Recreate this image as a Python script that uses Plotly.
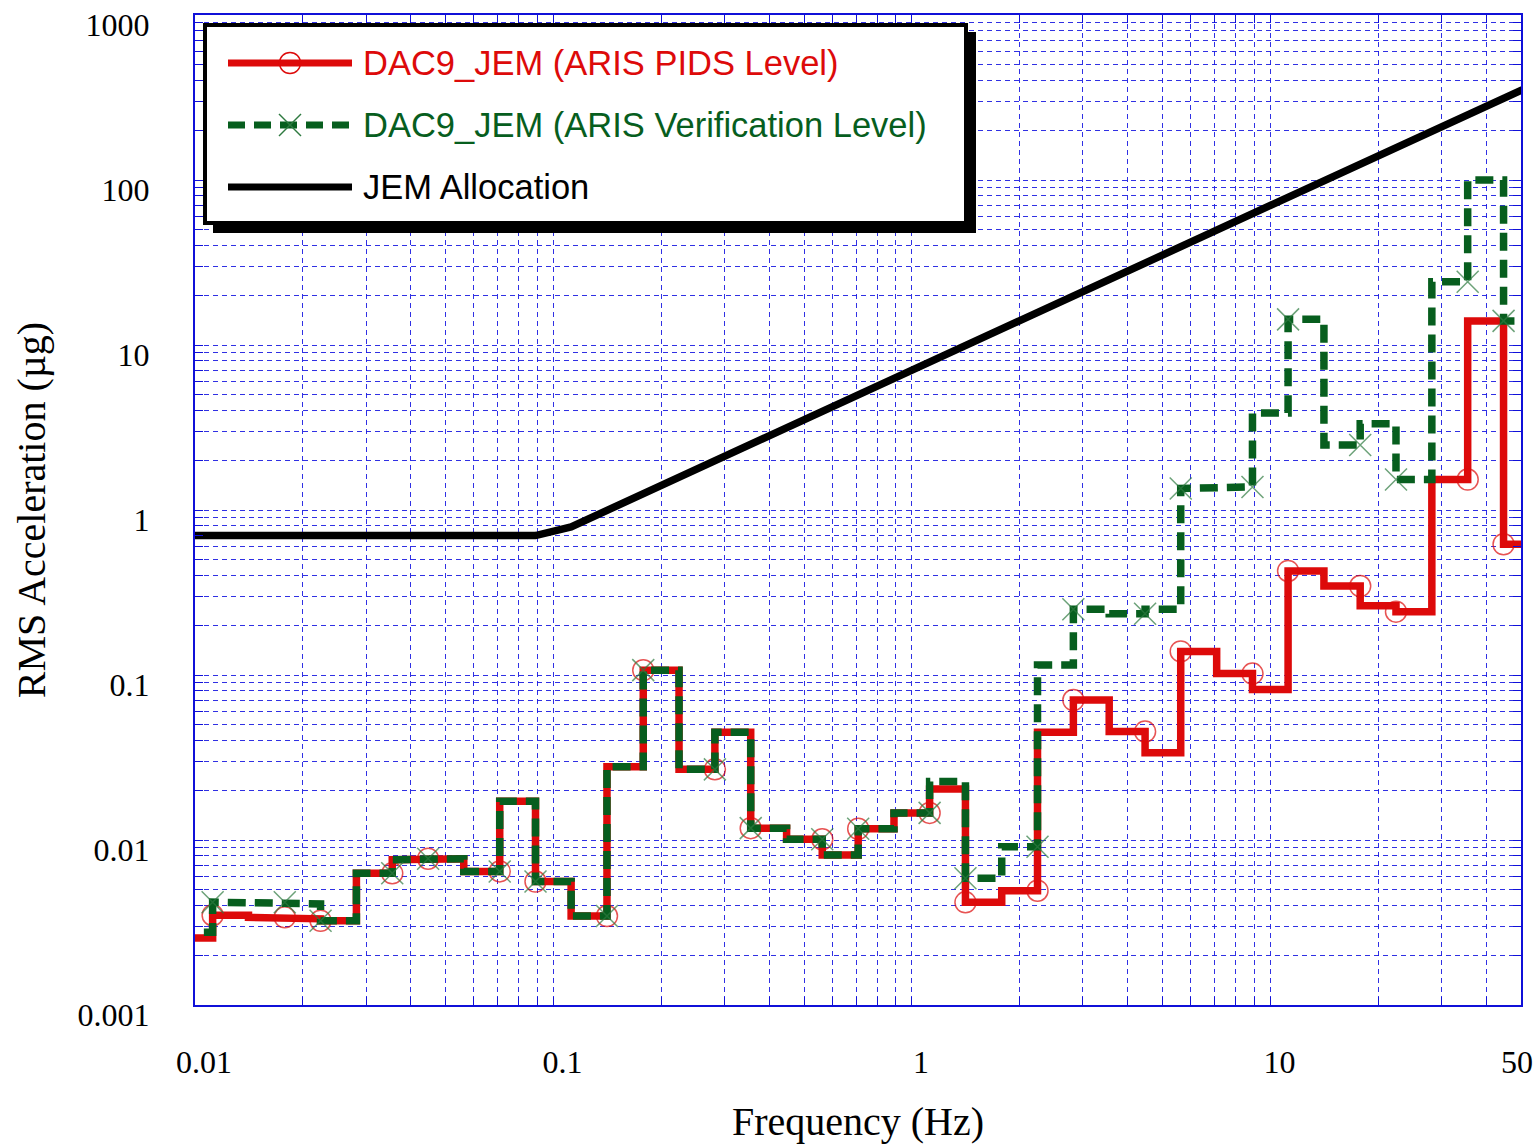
import math
import plotly.graph_objects as go

# ---------------- data ----------------
# 1/3-octave band edges (Hz); band j spans band_edges_hz[j] .. band_edges_hz[j+1]
band_edges_hz = [0.0089, 0.0112, 0.0141, 0.0178, 0.0224, 0.0282, 0.0355, 0.0447, 0.0562, 0.0708,
                 0.0891, 0.112, 0.141, 0.178, 0.224, 0.282, 0.355, 0.447, 0.562, 0.708,
                 0.891, 1.12, 1.41, 1.78, 2.24, 2.82, 3.55, 4.47, 5.62, 7.08,
                 8.91, 11.2, 14.1, 17.8, 22.4, 28.2, 35.5, 44.7, 56.2]

# RMS acceleration per band (micro-g)
pids_level = [0.00255, 0.0035, 0.0034, 0.00333, 0.00324, 0.00628, 0.0076, 0.0077, 0.00645, 0.0172,
              0.0056, 0.00346, 0.0278, 0.107, 0.0268, 0.045, 0.0118, 0.0101, 0.0081, 0.0117,
              0.0146, 0.0204, 0.00419, 0.00493, 0.045, 0.0705, 0.0454, 0.0338, 0.139, 0.102,
              0.0818, 0.427, 0.346, 0.263, 0.242, 1.53, 14.0, 0.62]

verif_level = [0.00276, 0.0042, 0.0042, 0.0041, 0.00324, 0.00628, 0.0076, 0.0077, 0.00645, 0.0172,
               0.0056, 0.00346, 0.0278, 0.107, 0.0268, 0.045, 0.0118, 0.0101, 0.0081, 0.0117,
               0.0146, 0.0226, 0.00586, 0.0091, 0.115, 0.25, 0.235, 0.25, 1.35, 1.38,
               3.87, 14.3, 2.48, 3.33, 1.53, 24.2, 100.0, 14.0]

# JEM allocation breakpoints
jem_freq_hz = [0.0089, 0.0891, 0.112, 56.2]
jem_level = [0.7, 0.7, 0.79, 393.0]

x_tick_labels = {0.01: "0.01", 0.1: "0.1", 1: "1", 10: "10"}
x_end_label = "50"
y_tick_labels = {0.001: "0.001", 0.01: "0.01", 0.1: "0.1", 1: "1", 10: "10", 100: "100", 1000: "1000"}

legend_names = ["DAC9_JEM (ARIS PIDS Level)", "DAC9_JEM (ARIS Verification Level)", "JEM Allocation"]

# ---------------- styling ----------------
RED = "#DD0A0A"
GREEN = "#075E1E"
XGREEN = "#2E7A40"
BLUE = "#1010D8"
GRID = "rgba(25,25,225,0.9)"
SERIF = "Liberation Serif, Times New Roman, serif"
SANS = "Liberation Sans, Arial, sans-serif"

W, H = 1535, 1144
L, R, T, B = 195, 1521, 15, 1005


def step_points(edges, levels):
    xs, ys = [], []
    for j, v in enumerate(levels):
        xs += [edges[j], edges[j + 1]]
        ys += [v, v]
    return xs, ys


def marker_sizes(n, size):
    # marker drawn on every third vertex of the step polyline
    return [size if i % 3 == 2 else 0 for i in range(n)]


px, py = step_points(band_edges_hz, pids_level)
vx, vy = step_points(band_edges_hz, verif_level)

fig = go.Figure()

fig.add_trace(go.Scatter(x=jem_freq_hz, y=jem_level, mode="lines",
                         line=dict(color="black", width=7.5), showlegend=False,
                         name=legend_names[2]))
fig.add_trace(go.Scatter(x=px, y=py, mode="lines+markers",
                         line=dict(color=RED, width=7.5),
                         marker=dict(symbol="circle-open", size=marker_sizes(len(px), 21),
                                     color=RED, line=dict(color=RED, width=1.5)),
                         showlegend=False, name=legend_names[0]))
fig.add_trace(go.Scatter(x=vx, y=vy, mode="lines+markers",
                         line=dict(color=GREEN, width=7.5, dash="18px,9px"),
                         marker=dict(symbol="x-thin-open", size=marker_sizes(len(vx), 22),
                                     color=XGREEN, line=dict(color=XGREEN, width=1.5)),
                         showlegend=False, name=legend_names[1]))

# grid/tick positions
xt = []
for dec in [0.01, 0.1, 1, 10]:
    for m in range(1, 10):
        v = round(m * dec, 6)
        if v <= 50:
            xt.append(v)
yt = []
for dec in [0.001, 0.01, 0.1, 1, 10, 100]:
    for m in range(1, 10):
        yt.append(round(m * dec, 6))
yt.append(1000)

axis_common = dict(
    type="log", showgrid=True, gridcolor=GRID, gridwidth=1, griddash="5px,4px",
    showline=True, linecolor=BLUE, linewidth=2, mirror="allticks",
    ticks="inside", ticklen=8, tickcolor=BLUE, tickwidth=1,
    tickfont=dict(family=SERIF, size=32, color="black"), zeroline=False,
    ticklabeloverflow="allow",
)

fig.update_xaxes(**axis_common, range=[math.log10(0.01) - 1e-9, math.log10(50) + 1e-9],
                 tickvals=xt, ticktext=[x_tick_labels.get(v, "") for v in xt],
                 ticklabelshift=9, ticklabelstandoff=28,
                 title=dict(text="Frequency (Hz)", font=dict(family=SERIF, size=40, color="black"),
                            standoff=28))
fig.update_yaxes(**axis_common, range=[-3 - 1e-9, 3 + 1e-9],
                 tickvals=yt, ticktext=[y_tick_labels.get(v, "") for v in yt],
                 ticklabelshift=10, ticklabelstandoff=37,
                 title=dict(text="RMS Acceleration (µg)", font=dict(family=SERIF, size=40, color="black"),
                            standoff=20))


def fx(p):
    return (p - L) / (R - L)


def fy(p):
    return (B - p) / (B - T)


shapes = []
# legend shadow and box (coordinates in screen pixels)
shapes.append(dict(type="rect", xref="paper", yref="paper", x0=fx(213), x1=fx(976), y0=fy(233), y1=fy(32),
                   fillcolor="black", line=dict(width=0), layer="above"))
shapes.append(dict(type="rect", xref="paper", yref="paper", x0=fx(205), x1=fx(966), y0=fy(223), y1=fy(25),
                   fillcolor="white", line=dict(color="black", width=4), layer="above"))
rows = [63, 125, 187]
colors = [RED, GREEN, "black"]
dashes = ["solid", "17px,9px", "solid"]
for r, c, d in zip(rows, colors, dashes):
    shapes.append(dict(type="line", xref="paper", yref="paper", x0=fx(228), x1=fx(352), y0=fy(r), y1=fy(r),
                       line=dict(color=c, width=7, dash=d), layer="above"))
# legend markers
mx = 290
shapes.append(dict(type="circle", xref="paper", yref="paper", x0=fx(mx - 10.5), x1=fx(mx + 10.5),
                   y0=fy(rows[0] + 10.5), y1=fy(rows[0] - 10.5), line=dict(color=RED, width=1.5), layer="above"))
for dx in (-1, 1):
    shapes.append(dict(type="line", xref="paper", yref="paper", x0=fx(mx - 11), x1=fx(mx + 11),
                       y0=fy(rows[1] - 11 * dx), y1=fy(rows[1] + 11 * dx),
                       line=dict(color=XGREEN, width=1.5), layer="above"))

annotations = []
for r, c, name in zip(rows, colors, legend_names):
    annotations.append(dict(xref="paper", yref="paper", x=fx(361), y=fy(r), xanchor="left", yanchor="middle",
                            text=name, showarrow=False, font=dict(family=SANS, size=34.5, color=c)))
# end-of-axis label "50" (kept inside the figure width, as in the original)
annotations.append(dict(xref="x", yref="paper", x=math.log10(50), y=0, xanchor="center", yanchor="middle",
                        xshift=-4, yshift=-57, text=x_end_label, showarrow=False,
                        font=dict(family=SERIF, size=32, color="black")))

fig.update_layout(
    width=W, height=H,
    margin=dict(l=L, r=W - R, t=T, b=H - B, autoexpand=False),
    plot_bgcolor="white", paper_bgcolor="white",
    shapes=shapes, annotations=annotations, showlegend=False,
)

fig.write_html("out.html", config={"displayModeBar": False},
               post_script="document.body.style.margin='0px';document.body.style.overflow='hidden';")
